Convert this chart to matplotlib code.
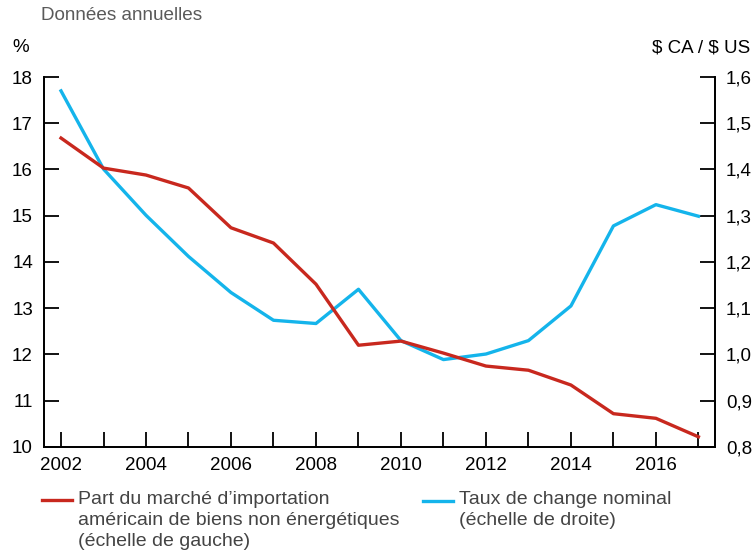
import matplotlib.pyplot as plt
import matplotlib.ticker as mticker

plt.rcParams['font.family'] = ['Liberation Sans', 'DejaVu Sans']

# Données annuelles
annees = list(range(2002, 2018))
part_marche = [16.68, 16.03, 15.88, 15.60, 14.74, 14.41, 13.52, 12.20,
               12.29, 12.03, 11.75, 11.66, 11.34, 10.72, 10.62, 10.22]
taux_change = [1.570, 1.401, 1.301, 1.212, 1.134, 1.074, 1.067, 1.141,
               1.030, 0.989, 1.001, 1.030, 1.105, 1.278, 1.324, 1.299]

legende_rouge = ['Part du marché d\u2019importation',
                 'américain de biens non énergétiques',
                 '(échelle de gauche)']
legende_bleu = ['Taux de change nominal', '(échelle de droite)']

rouge = '#C8281E'
bleu = '#14B4EB'

fig = plt.figure(figsize=(7.55, 5.6), dpi=100)
ax = fig.add_axes([0.0583, 0.2018, 0.8887, 0.6607])
ax2 = ax.twinx()

ax.plot(annees, part_marche, color=rouge, lw=2.4, zorder=3)
ax2.plot(annees, taux_change, color=bleu, lw=2.4, zorder=2)
ax.set_zorder(ax2.get_zorder() + 1)
ax.patch.set_visible(False)

ax.set_xlim(2001.6, 2017.39)
ax.set_ylim(10, 18)
ax2.set_ylim(0.8, 1.6)

ax.xaxis.set_major_locator(mticker.MultipleLocator(2))
ax.xaxis.set_minor_locator(mticker.MultipleLocator(1))
ax.yaxis.set_major_locator(mticker.MultipleLocator(1))
ax2.yaxis.set_major_locator(mticker.MultipleLocator(0.1))
ax2.yaxis.set_major_formatter(mticker.FuncFormatter(lambda v, p: f'{v:.1f}'.replace('.', ',')))

for a in (ax, ax2):
    a.spines['top'].set_visible(False)
    for s in a.spines.values():
        s.set_linewidth(1.3)
    a.tick_params(which='both', direction='in', length=11, width=1.3,
                  labelsize=13.5, colors='black', pad=5)
ax.tick_params(axis='x', which='major', pad=7)
ax.tick_params(axis='y', pad=8)
ax2.tick_params(axis='y', pad=8)

fig.text(41 / 755, 1 - 15 / 560, 'Données annuelles', fontsize=13.6, color='#5a5a5a', va='center')
fig.text(12 / 755, 1 - 48 / 560, '%', fontsize=13.5, va='center')
fig.text(750 / 755, 1 - 48 / 560, r'\$ CA / \$ US', fontsize=13.5, va='center', ha='right')

# Légende (une ligne de texte à la fois)
fig.add_artist(plt.Line2D([42 / 755, 72 / 755], [1 - 500 / 560] * 2, color=rouge, lw=2.4))
for i, ligne in enumerate(legende_rouge):
    fig.text(78 / 755, 1 - (500 + i * 20.5) / 560, ligne,
             fontsize=14, color='#444444', va='center')
fig.add_artist(plt.Line2D([423 / 755, 453 / 755], [1 - 501 / 560] * 2, color=bleu, lw=2.4))
for i, ligne in enumerate(legende_bleu):
    fig.text(459 / 755, 1 - (500 + i * 20.5) / 560, ligne,
             fontsize=14, color='#444444', va='center')

fig.savefig('out.png', dpi=100)
